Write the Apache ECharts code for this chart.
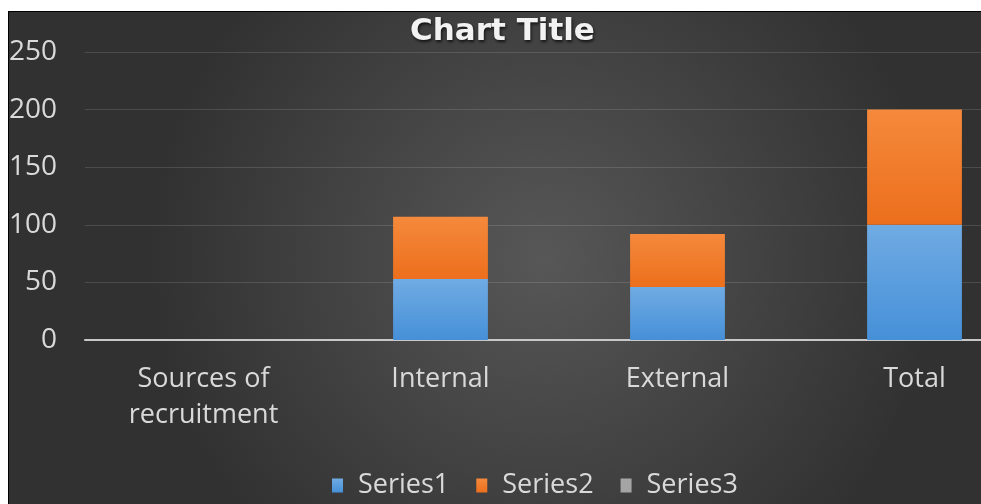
<!DOCTYPE html>
<html>
<head>
<meta charset="utf-8">
<script src="https://cdn.jsdelivr.net/npm/echarts@6/dist/echarts.min.js"></script>
<style>
  html, body { margin: 0; padding: 0; background: #ffffff; width: 981px; height: 504px; overflow: hidden; }
  #frame { position: absolute; left: 8px; top: 11px; width: 972px; height: 492px; border-left: 1px solid #000; border-top: 1px solid #000; }
  #chart { width: 972px; height: 492px; }
</style>
</head>
<body>
<div id="frame"><div id="chart"></div></div>
<script>
const categories = ['Sources of\nrecruitment', 'Internal', 'External', 'Total'];
const series1 = [null, 53, 46, 100];
const series2 = [null, 54, 46, 100];
const series3 = [null, null, null, null];
const yTicks = { min: 0, max: 250, interval: 50 };

const chart = echarts.init(document.getElementById('chart'), null, { renderer: 'canvas' });
const font = 'Open Sans';
const grad = (top, bottom) => new echarts.graphic.LinearGradient(0, 0, 0, 1, [
  { offset: 0, color: top }, { offset: 1, color: bottom }
]);

chart.setOption({
  animation: false,
  backgroundColor: new echarts.graphic.RadialGradient(0.55, 0.5, 0.8, [
    { offset: 0, color: '#575757' },
    { offset: 1, color: '#313131' }
  ]),
  title: {
    text: 'Chart Title',
    left: 401,
    top: 4,
    padding: 0,
    textStyle: {
      fontFamily: 'DejaVu Sans',
      fontWeight: 'bold',
      fontSize: 31,
      color: '#f2f2f2',
      textShadowColor: 'rgba(0,0,0,0.7)',
      textShadowBlur: 3,
      textShadowOffsetX: 1,
      textShadowOffsetY: 2
    }
  },
  legend: {
    data: ['Series1', 'Series2', 'Series3'],
    left: 318,
    top: 455,
    itemWidth: 11,
    itemHeight: 14,
    itemGap: 27,
    icon: 'rect',
    textStyle: { fontFamily: font, fontSize: 27, color: '#d9d9d9', padding: [0, 0, 0, 10] }
  },
  grid: { left: 76, top: 40, width: 948, height: 288, containLabel: false, outerBoundsMode: 'none' },
  xAxis: {
    type: 'category',
    data: categories,
    axisLine: { lineStyle: { color: '#c8c8c8', width: 2 } },
    axisTick: { show: false },
    axisLabel: { fontFamily: font, fontSize: 27, color: '#d9d9d9', margin: 21, lineHeight: 36, interval: 0 }
  },
  yAxis: {
    type: 'value',
    min: yTicks.min, max: yTicks.max, interval: yTicks.interval,
    axisLine: { show: false },
    axisTick: { show: false },
    axisLabel: { fontFamily: font, fontSize: 28, color: '#d9d9d9', margin: 28 },
    splitLine: { lineStyle: { color: 'rgba(255,255,255,0.13)', width: 1 } }
  },
  series: [
    { name: 'Series1', type: 'bar', stack: 'a', barWidth: '40%', data: series1,
      itemStyle: { color: grad('#70abe3', '#4690d8') } },
    { name: 'Series2', type: 'bar', stack: 'a', barWidth: '40%', data: series2,
      itemStyle: { color: grad('#f5893c', '#ec6f1c') } },
    { name: 'Series3', type: 'bar', stack: 'a', barWidth: '40%', data: series3,
      itemStyle: { color: '#a5a5a5' } }
  ]
});
</script>
</body>
</html>
